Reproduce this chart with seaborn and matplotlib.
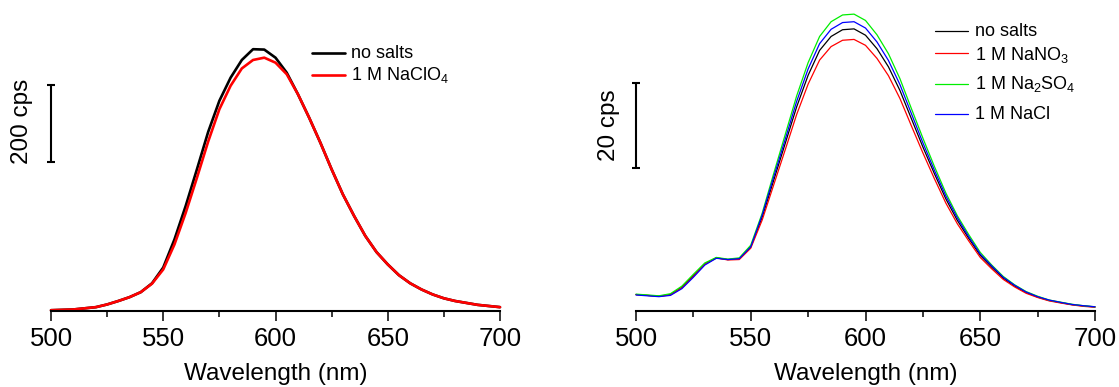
import matplotlib
matplotlib.use("Agg")
import matplotlib.pyplot as plt
import numpy as np
import pandas as pd
import seaborn as sns
from matplotlib.lines import Line2D
from matplotlib.ticker import MultipleLocator

# ---------------- data ----------------
wavelength = list(range(500, 705, 5))

left_no_salts = [2, 3, 4, 7, 10, 17, 26, 36, 49, 72,
                 113, 186, 273, 368, 465, 546, 606, 652, 680, 679,
                 658, 619, 563, 502, 437, 368, 303, 247, 195, 153,
                 121, 93, 72, 56, 43, 33, 26, 21, 16, 13, 10]
left_naclo4 = [2, 3, 4, 7, 10, 17, 26, 36, 49, 71,
               108, 173, 255, 346, 440, 524, 585, 630, 652, 658,
               645, 615, 563, 502, 437, 368, 303, 247, 195, 153,
               121, 93, 72, 56, 43, 33, 26, 21, 16, 13, 10]

right_no_salts = [3.9, 3.7, 3.5, 3.9, 5.6, 8.4, 11.2, 12.6, 12.2, 12.4,
                  15.2, 22.3, 31.0, 39.7, 48.4, 55.9, 61.8, 65.1, 66.7, 66.9,
                  65.4, 62.2, 57.9, 52.3, 45.6, 38.9, 32.6, 26.6, 21.5, 17.2,
                  13.2, 10.4, 7.8, 5.9, 4.4, 3.3, 2.5, 2.0, 1.5, 1.2, 0.95]
right_nano3 = [3.9, 3.7, 3.5, 3.8, 5.5, 8.2, 11.1, 12.6, 12.1, 12.2,
               14.9, 21.6, 29.9, 38.2, 46.6, 53.8, 59.5, 62.7, 64.2, 64.4,
               63.0, 59.9, 55.8, 50.4, 43.9, 37.5, 31.4, 25.6, 20.7, 16.6,
               12.7, 10.0, 7.5, 5.7, 4.2, 3.2, 2.4, 1.9, 1.45, 1.1, 0.9]
right_na2so4 = [4.0, 3.8, 3.6, 4.1, 5.9, 8.7, 11.4, 12.7, 12.3, 12.6,
                15.6, 23.2, 32.6, 41.8, 51.0, 58.9, 65.1, 68.6, 70.2, 70.4,
                68.9, 65.5, 61.0, 55.1, 48.0, 41.0, 34.3, 28.0, 22.6, 18.1,
                13.9, 10.9, 8.2, 6.2, 4.6, 3.5, 2.6, 2.1, 1.6, 1.25, 1.0]
right_nacl = [3.8, 3.6, 3.4, 3.7, 5.3, 8.0, 10.9, 12.5, 12.2, 12.4,
              15.2, 22.8, 31.8, 40.7, 49.7, 57.4, 63.4, 66.8, 68.4, 68.6,
              67.1, 63.8, 59.4, 53.7, 46.8, 39.9, 33.4, 27.3, 22.1, 17.6,
              13.5, 10.7, 8.0, 6.1, 4.5, 3.4, 2.6, 2.05, 1.55, 1.25, 1.0]

left_labels = ["no salts", "1 M NaClO$_4$"]
right_labels = ["no salts", "1 M NaNO$_3$", "1 M Na$_2$SO$_4$", "1 M NaCl"]
left_colors = ["#000000", "#ff0000"]
right_colors = ["#000000", "#ff0000", "#00ee00", "#0000ff"]
xticks = [500, 550, 600, 650, 700]
left_scale_label = "200 cps"
right_scale_label = "20 cps"

# ---------------- style ----------------
sns.set_style("white")
plt.rcParams["font.family"] = ["Liberation Sans", "DejaVu Sans"]
plt.rcParams["text.color"] = "black"
plt.rcParams["axes.labelcolor"] = "black"
plt.rcParams["xtick.color"] = "black"
plt.rcParams["mathtext.fontset"] = "custom"
plt.rcParams["mathtext.rm"] = "Liberation Sans"
plt.rcParams["mathtext.it"] = "Liberation Sans"
plt.rcParams["mathtext.bf"] = "Liberation Sans"

W, H = 1119, 387
fig = plt.figure(figsize=(W / 100, H / 100), dpi=100)

def fx(px):
    return px / W

def fy(py):
    return 1 - py / H

spine_py = 311
top_py = 5
axL = fig.add_axes([fx(51), fy(spine_py), fx(500) - fx(51), (spine_py - top_py) / H])
axR = fig.add_axes([fx(636), fy(spine_py), fx(1095) - fx(636), (spine_py - top_py) / H])

dfL = pd.DataFrame({"wl": wavelength * 2,
                    "val": left_no_salts + left_naclo4,
                    "s": [left_labels[0]] * len(wavelength) + [left_labels[1]] * len(wavelength)})
dfR = pd.DataFrame({"wl": wavelength * 4,
                    "val": right_no_salts + right_nano3 + right_na2so4 + right_nacl,
                    "s": sum([[l] * len(wavelength) for l in right_labels], [])})

sns.lineplot(data=dfL, x="wl", y="val", hue="s", hue_order=left_labels,
             palette=left_colors, linewidth=1.9, legend=False, ax=axL)
sns.lineplot(data=dfR, x="wl", y="val", hue="s", hue_order=right_labels,
             palette=right_colors, linewidth=0.9, legend=False, ax=axR)

for ax, ytop in ((axL, 306 / 0.385), (axR, 306 / 4.217)):
    ax.set_xlim(500, 700)
    ax.set_ylim(0, ytop)
    for sp in ("left", "right", "top"):
        ax.spines[sp].set_visible(False)
    ax.spines["bottom"].set_linewidth(1.5)
    ax.spines["bottom"].set_color("black")
    ax.set_yticks([])
    ax.set_xticks(xticks)
    ax.xaxis.set_minor_locator(MultipleLocator(25))
    ax.tick_params(axis="x", which="major", direction="out", length=7.2, width=1.1,
                   color="black", labelcolor="black", pad=4, bottom=True, labelsize=18.5)
    ax.tick_params(axis="x", which="minor", direction="out", length=4.3, width=1.1,
                   color="black", bottom=True)
    ax.set_xlabel("Wavelength (nm)", fontsize=17.5, color="black", labelpad=9)
    ax.set_ylabel("")
    ax.patch.set_alpha(0)
    for l in ax.lines:
        l.set_clip_on(False)

# scale bars
axL.errorbar([500], [487], yerr=[100], color="black", elinewidth=1.5, capsize=3,
             capthick=1.5, clip_on=False, fmt="none")
axR.errorbar([500], [44], yerr=[10], color="black", elinewidth=1.5, capsize=3,
             capthick=1.5, clip_on=False, fmt="none")
fig.text(fx(22), fy(121), left_scale_label, rotation=90, ha="center", va="center",
         fontsize=17.5, color="black")
fig.text(fx(609), fy(125), right_scale_label, rotation=90, ha="center", va="center",
         fontsize=17.5, color="black")

# legends
def legend_entries(x0, x1, xt, line_ys, base_ys, labels, colors, lw):
    for ly, by, lab, c in zip(line_ys, base_ys, labels, colors):
        fig.add_artist(Line2D([fx(x0), fx(x1)], [fy(ly), fy(ly)], color=c, lw=lw,
                              transform=fig.transFigure))
        fig.text(fx(xt), fy(by), lab, ha="left", va="baseline", fontsize=13, color="black")

legend_entries(312, 345, 351, [52.7, 75], [58.3, 80], left_labels, left_colors, 1.9)
legend_entries(935, 968, 975, [30.7, 53.3, 84, 114], [35.7, 60, 89.3, 119],
               right_labels, right_colors, 0.9)

fig.savefig("out.png", dpi=100)
